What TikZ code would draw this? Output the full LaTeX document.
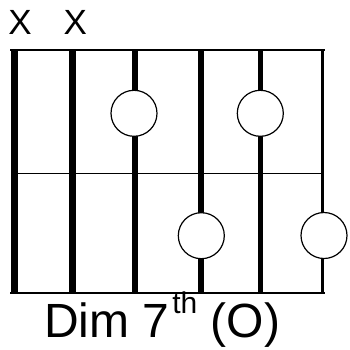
\documentclass[tikz,border=0pt]{standalone}
\usepackage{fontspec}
\setmainfont{Liberation Sans}
\begin{document}
\begin{tikzpicture}[x=1pt,y=-1pt,
  fret/.style={line width=2pt,line cap=rect},
  midfret/.style={line width=1.5pt},
  strg/.style={line cap=butt},
  dot/.style={circle,draw,fill=white,line width=1.2pt,minimum size=46pt,inner sep=0pt},
  mute/.style={inner sep=0pt,anchor=base,font=\fontsize{35}{37}\selectfont},
  label/.style={inner sep=0pt,anchor=base west,font=\fontsize{48}{52}\selectfont}]
\useasboundingbox (0,0) rectangle (350,349);
% string coordinates
\coordinate (s1t) at (14.7,50); \coordinate (s1b) at (14.7,292);
\coordinate (s2t) at (72.5,50); \coordinate (s2b) at (72.5,292);
\coordinate (s3t) at (135.3,50); \coordinate (s3b) at (135.3,292);
\coordinate (s4t) at (201,50); \coordinate (s4b) at (201,292);
\coordinate (s5t) at (260.5,50); \coordinate (s5b) at (260.5,292);
\coordinate (s6t) at (322.5,50); \coordinate (s6b) at (322.5,292);
\coordinate (tl) at (11,50.3); \coordinate (tr) at (323.5,50.3);
\coordinate (ml) at (11,173.3); \coordinate (mr) at (323.5,173.3);
\coordinate (bl) at (11,292.5); \coordinate (br) at (323.5,292.5);
% frets
\draw[fret] (tl) -- (tr);
\draw[midfret] (ml) -- (mr);
\draw[fret] (bl) -- (br);
% strings
\draw[strg,line width=7.5pt] (s1t) -- (s1b);
\draw[strg,line width=7.5pt] (s2t) -- (s2b);
\draw[strg,line width=6pt] (s3t) -- (s3b);
\draw[strg,line width=6pt] (s4t) -- (s4b);
\draw[strg,line width=5pt] (s5t) -- (s5b);
\draw[strg,line width=2.5pt] (s6t) -- (s6b);
% finger dots
\node[dot] (d1) at (134,113.3) {};
\node[dot] (d2) at (260.3,113.3) {};
\node[dot] (d3) at (201.3,235.7) {};
\node[dot] (d4) at (324,235.5) {};
% muted strings
\node[mute] (x1) at (20,34.5) {X};
\node[mute] (x2) at (75.3,34.5) {X};
% chord name
\node[label] (name) at (43.8,337) {Dim 7\hspace{3pt}\raisebox{24pt}{\fontsize{30}{31}\selectfont th} (O)};
\end{tikzpicture}
\end{document}
